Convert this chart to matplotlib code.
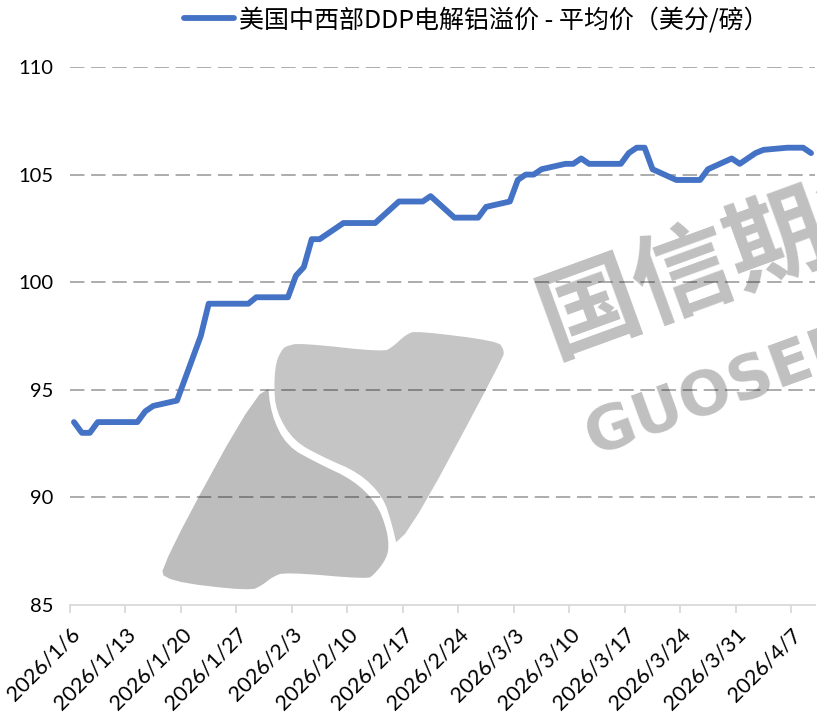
import matplotlib
matplotlib.use("Agg")
import matplotlib.pyplot as plt
import numpy as np
import pandas as pd
from matplotlib.patches import Polygon
from matplotlib.font_manager import FontProperties

# 美国中西部DDP电解铝溢价, 美分/磅 (trading days)
dates = [
    "2026-01-06", "2026-01-07", "2026-01-08", "2026-01-09",
    "2026-01-12", "2026-01-13", "2026-01-14", "2026-01-15", "2026-01-16",
    "2026-01-19", "2026-01-20", "2026-01-21", "2026-01-22", "2026-01-23",
    "2026-01-26", "2026-01-27", "2026-01-28", "2026-01-29", "2026-01-30",
    "2026-02-02", "2026-02-03", "2026-02-04", "2026-02-05", "2026-02-06",
    "2026-02-09", "2026-02-10", "2026-02-11", "2026-02-12", "2026-02-13",
    "2026-02-16", "2026-02-17", "2026-02-18", "2026-02-19", "2026-02-20",
    "2026-02-23", "2026-02-24", "2026-02-25", "2026-02-26", "2026-02-27",
    "2026-03-02", "2026-03-03", "2026-03-04", "2026-03-05", "2026-03-06",
    "2026-03-09", "2026-03-10", "2026-03-11", "2026-03-12", "2026-03-13",
    "2026-03-16", "2026-03-17", "2026-03-18", "2026-03-19", "2026-03-20",
    "2026-03-23", "2026-03-24", "2026-03-25", "2026-03-26", "2026-03-27",
    "2026-03-30", "2026-03-31", "2026-04-01", "2026-04-02", "2026-04-03",
    "2026-04-06", "2026-04-07", "2026-04-08", "2026-04-09",
]
premium = [
    93.5, 93.0, 93.0, 93.5,
    93.5, 93.5, 93.5, 94.0, 94.25,
    94.5, 95.5, 96.5, 97.5, 99.0,
    99.0, 99.0, 99.0, 99.3, 99.3,
    99.3, 100.3, 100.7, 102.0, 102.0,
    102.75, 102.75, 102.75, 102.75, 102.75,
    103.75, 103.75, 103.75, 103.75, 104.0,
    103.0, 103.0, 103.0, 103.0, 103.5,
    103.75, 104.75, 105.0, 105.0, 105.25,
    105.5, 105.5, 105.75, 105.5, 105.5,
    105.5, 106.0, 106.25, 106.25, 105.25,
    104.75, 104.75, 104.75, 104.75, 105.25,
    105.75, 105.5, 105.75, 106.0, 106.15,
    106.25, 106.25, 106.25, 106.0,
]
series_name = "美国中西部DDP电解铝溢价 - 平均价（美分/磅）"
yticks = [85, 90, 95, 100, 105, 110]

W, H = 817, 714
fig = plt.figure(figsize=(W / 100, H / 100), dpi=100)

def px(points, n=2):
    # pixel coords -> figure fraction, with a little chaikin smoothing
    p = np.array(points, dtype=float)
    for _ in range(n):
        q = np.roll(p, -1, axis=0)
        p = np.stack([0.75 * p + 0.25 * q, 0.25 * p + 0.75 * q], axis=1).reshape(-1, 2)
    return np.column_stack([p[:, 0] / W, 1 - p[:, 1] / H])

# watermark (logo + company name), drawn under the axes
lower = [(266, 376), (162, 566), (166, 580), (250, 590), (262, 584), (272, 576),
         (285, 571), (367, 578), (373, 574), (383, 562), (388, 550), (386, 530),
         (376, 504), (353, 481), (317, 464), (286, 447), (270, 415)]
upper = [(287, 347), (300, 344), (383, 353), (393, 348), (407, 335), (417, 332),
         (497, 342), (503, 350), (502, 358), (399, 550), (393, 524), (384, 496),
         (360, 472), (323, 456), (294, 440), (277, 411), (275, 385), (277, 362),
         (283, 350)]
for pts, c in [(lower, "#bdbdbd"), (upper, "#c5c5c5")]:
    fig.add_artist(Polygon(px(pts), closed=True, transform=fig.transFigure,
                           facecolor=c, edgecolor=c, lw=1.5, zorder=-2))
fig.text(543 / W, 1 - 327 / H, "国信期货", rotation=20, rotation_mode="anchor",
         ha="left", va="center", color="#c0c0c0", fontsize=72, fontweight="bold",
         family=["Noto Sans CJK SC", "DejaVu Sans"], zorder=-2)
fig.text(588 / W, 1 - 440 / H, "GUOSEN", rotation=20, rotation_mode="anchor",
         ha="left", va="center", color="#c0c0c0", fontsize=44, fontweight="bold",
         family="DejaVu Sans", zorder=-2)

ax = fig.add_axes([70 / W, 1 - 605 / H, 745 / W, 538 / H])
ax.set_facecolor("none")

x = pd.to_datetime(dates) + pd.Timedelta(hours=12)
ax.plot(x, premium, color="#4472C4", lw=4.2, solid_capstyle="round",
        solid_joinstyle="round", label=series_name, zorder=3)

ax.set_ylim(85, 110)
ax.set_yticks(yticks)
ax.set_xlim(pd.Timestamp("2026-01-06"), pd.Timestamp("2026-04-10"))
xt = pd.date_range("2026-01-06", "2026-04-07", freq="7D")
ax.set_xticks(xt)
ax.set_xticklabels([f"{d.year}/{d.month}/{d.day}" for d in xt], rotation=45,
                   ha="right", rotation_mode="anchor")

ax.yaxis.grid(True, color="black", alpha=0.35, lw=1.3, linestyle=(0, (8, 3.7)))
ax.get_ygridlines()[0].set_visible(False)
ax.set_axisbelow(True)

for s in ["left", "right", "top"]:
    ax.spines[s].set_visible(False)
ax.spines["bottom"].set_color("#d9d9d9")
ax.spines["bottom"].set_linewidth(1.3)

for lab in ax.get_yticklabels():
    lab.set_fontproperties(FontProperties(family="Lato", size=14.5))
for lab in ax.get_xticklabels():
    lab.set_fontproperties(FontProperties(family="Lato", size=15.5))
ax.tick_params(axis="y", length=0, pad=12, colors="black")
ax.tick_params(axis="x", length=6, width=1.3, color="#d9d9d9", pad=8, labelcolor="black")

ax.legend(loc="center", bbox_to_anchor=(476 / W, 1 - 20 / H), bbox_transform=fig.transFigure,
          frameon=False, handlelength=2.0, handletextpad=0.2,
          prop=FontProperties(family=["Noto Sans CJK SC", "DejaVu Sans"], size=18))

fig.savefig("out.png", dpi=100)
